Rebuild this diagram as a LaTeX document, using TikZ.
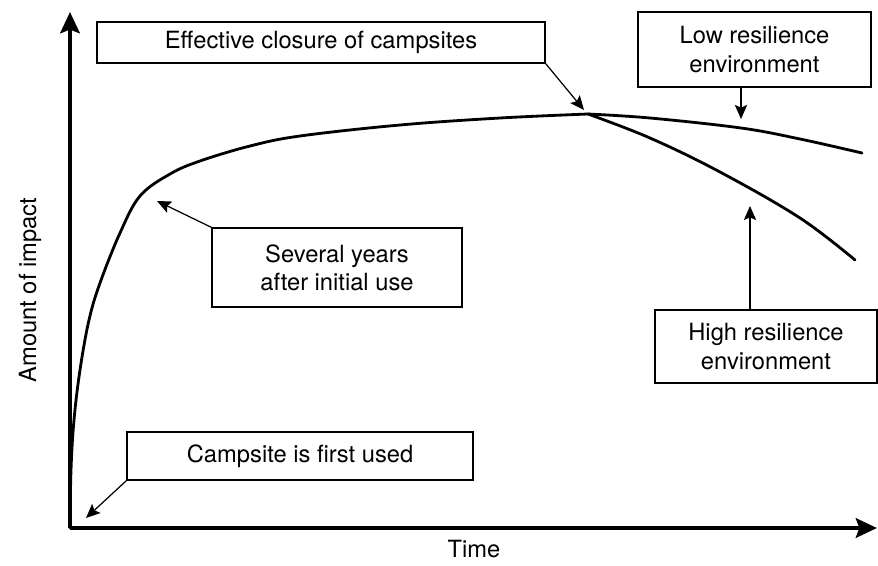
\documentclass[tikz,border=0pt]{standalone}
\usepackage{fontspec}
\setmainfont{TeX Gyre Heros}
\usetikzlibrary{arrows.meta,calc}
\def\px{0.02cm}
\tikzset{
  axis/.style={line width=2.6pt, -{Stealth[length=12pt,width=11pt,inset=2pt]}},
  impact/.style={line width=1.6pt, line join=round, line cap=round},
  pointer/.style={line width=0.7pt, -{Stealth[length=8pt,width=7pt,inset=1.5pt]}},
  labelbox/.style={draw, line width=0.8pt, align=center, inner sep=0pt,
    font=\fontsize{13.5}{16}\selectfont},
  axislabel/.style={font=\fontsize{13.5}{16}\selectfont}
}

\begin{document}
\begin{tikzpicture}[x=\px, y=-\px]
		%%%%% START %%%%%
		\useasboundingbox (0, 0) rectangle (878, 565);
		
		% axes
		\coordinate (origin) at (70, 528);
		\draw[axis] (origin) -- (70, 12);
		\draw[axis] (origin) -- (877, 528);
		\node[axislabel, rotate=90] (ylab) at (30, 290) {Amount of impact};
		\node[axislabel] (xlab) at (474, 549) {Time};
		
		% impact curve
		\draw[impact] plot[smooth, tension=0.6] coordinates {(70, 528) (71, 470) (74, 420) (80, 370) (89, 320) (100, 283) (120, 233) (140, 196) (170, 174) (200, 161) (250, 146) (300, 136) (400, 125) (500, 118) (588, 114)};
		\coordinate (branch) at (588, 114);
		\draw[impact] plot[smooth, tension=0.6] coordinates {(588, 114) (650, 118) (741, 128) (800, 139) (862, 153)};
		\draw[impact] plot[smooth, tension=0.6] coordinates {(588, 114) (650, 138) (720, 172) (800, 218) (855, 260)};
		
		% boxes
		\node[labelbox, minimum width=448*\px, minimum height=41*\px] (closure) at (321, 42.5) {Effective closure of campsites};
		\node[labelbox, minimum width=233*\px, minimum height=75*\px] (low) at (754.5, 49.5) {Low resilience\\environment};
		\node[labelbox, minimum width=250*\px, minimum height=79*\px] (several) at (337, 267.5) {Several years\\after initial use};
		\node[labelbox, minimum width=222*\px, minimum height=73*\px] (high) at (766, 346.5) {High resilience\\environment};
		\node[labelbox, minimum width=346*\px, minimum height=48*\px] (first) at (300, 456) {Campsite is first used};
		
		% pointers
		\coordinate (closuretip) at (584, 110);
		\coordinate (lowtip) at (741, 119);
		\coordinate (severaltip) at (157, 201);
		\coordinate (hightip) at (750, 206);
		\coordinate (firsttip) at (86, 518);
		\draw[pointer] (closure.south east) -- (closuretip);
		\draw[pointer] (lowtip |- low.south) -- (lowtip);
		\draw[pointer] (several.north west) -- (severaltip);
		\draw[pointer] (hightip |- high.north) -- (hightip);
		\draw[pointer] (first.south west) -- (firsttip);
		%%%%% END %%%%%
\end{tikzpicture}
\end{document}
